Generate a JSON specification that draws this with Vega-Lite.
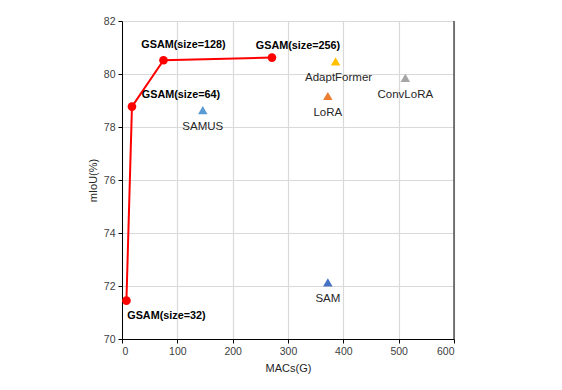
{
  "$schema": "https://vega.github.io/schema/vega-lite/v6.json",
  "width": 332,
  "height": 318,
  "autosize": "none",
  "padding": {"left": 122, "top": 21, "right": 108, "bottom": 51},
  "background": "white",
  "config": {
    "font": "Liberation Sans",
    "view": {"stroke": null},
    "axis": {
      "grid": true, "gridColor": "#D9D9D9", "gridWidth": 1.2,
      "domainColor": "#000000", "tickColor": "#000000", "tickSize": 4,
      "labelColor": "#404040", "labelFontSize": 10.5, "labelFont": "Liberation Sans",
      "titleColor": "#262626", "titleFontSize": 11, "titleFontWeight": "normal", "titleFont": "Liberation Sans"
    }
  },
  "datasets": {
    "gsam": [
      {"name": "GSAM(size=32)", "macs": 8, "miou": 71.45},
      {"name": "GSAM(size=64)", "macs": 18, "miou": 78.77},
      {"name": "GSAM(size=128)", "macs": 75, "miou": 80.52},
      {"name": "GSAM(size=256)", "macs": 271, "miou": 80.62}
    ],
    "others": [
      {"name": "SAMUS", "macs": 146, "miou": 78.64},
      {"name": "AdaptFormer", "macs": 386, "miou": 80.48},
      {"name": "LoRA", "macs": 372, "miou": 79.17},
      {"name": "ConvLoRA", "macs": 512, "miou": 79.85},
      {"name": "SAM", "macs": 372, "miou": 72.14}
    ],
    "border": [{"macs": 600}]
  },
  "layer": [
    {
      "data": {"name": "gsam"},
      "mark": {"type": "line", "color": "#FF0000", "strokeWidth": 2},
      "encoding": {
        "x": {"field": "macs", "type": "quantitative", "scale": {"domain": [0, 600], "nice": false}, "axis": {"values": [0, 100, 200, 300, 400, 500, 600], "title": "MACs(G)", "titlePadding": 6, "labelPadding": 3}},
        "y": {"field": "miou", "type": "quantitative", "scale": {"domain": [70, 82], "nice": false, "zero": false}, "axis": {"values": [70, 72, 74, 76, 78, 80, 82], "title": "mIoU(%)", "titlePadding": 5, "labelPadding": 3}}
      }
    },
    {
      "data": {"name": "border"},
      "mark": {"type": "rule", "color": "#000000", "strokeWidth": 1},
      "encoding": {"x": {"field": "macs", "type": "quantitative"}}
    },
    {
      "data": {"name": "gsam"},
      "mark": {"type": "point", "filled": true, "color": "#FF0000", "opacity": 1, "size": 75, "shape": "circle"},
      "encoding": {
        "x": {"field": "macs", "type": "quantitative"},
        "y": {"field": "miou", "type": "quantitative"}
      }
    },
    {
      "data": {"name": "others"},
      "mark": {"type": "point", "filled": true, "opacity": 1, "size": 90, "shape": "triangle-up"},
      "encoding": {
        "x": {"field": "macs", "type": "quantitative"},
        "y": {"field": "miou", "type": "quantitative"},
        "color": {"field": "name", "type": "nominal", "legend": null, "scale": {"domain": ["SAMUS", "AdaptFormer", "LoRA", "ConvLoRA", "SAM"], "range": ["#5B9BD5", "#FFC000", "#ED7D31", "#A5A5A5", "#4472C4"]}}
      }
    },
    {
      "data": {"name": "gsam"},
      "transform": [{"filter": "datum.name === 'GSAM(size=32)'"}],
      "mark": {"type": "text", "fontWeight": "bold", "fontSize": 10.8, "color": "#000000", "dx": 40, "dy": 15},
      "encoding": {"x": {"field": "macs", "type": "quantitative"}, "y": {"field": "miou", "type": "quantitative"}, "text": {"field": "name"}}
    },
    {
      "data": {"name": "gsam"},
      "transform": [{"filter": "datum.name === 'GSAM(size=64)'"}],
      "mark": {"type": "text", "fontWeight": "bold", "fontSize": 10.8, "color": "#000000", "dx": 49, "dy": -12},
      "encoding": {"x": {"field": "macs", "type": "quantitative"}, "y": {"field": "miou", "type": "quantitative"}, "text": {"field": "name"}}
    },
    {
      "data": {"name": "gsam"},
      "transform": [{"filter": "datum.name === 'GSAM(size=128)'"}],
      "mark": {"type": "text", "fontWeight": "bold", "fontSize": 10.8, "color": "#000000", "dx": 20, "dy": -15},
      "encoding": {"x": {"field": "macs", "type": "quantitative"}, "y": {"field": "miou", "type": "quantitative"}, "text": {"field": "name"}}
    },
    {
      "data": {"name": "gsam"},
      "transform": [{"filter": "datum.name === 'GSAM(size=256)'"}],
      "mark": {"type": "text", "fontWeight": "bold", "fontSize": 10.8, "color": "#000000", "dx": 26, "dy": -12},
      "encoding": {"x": {"field": "macs", "type": "quantitative"}, "y": {"field": "miou", "type": "quantitative"}, "text": {"field": "name"}}
    },
    {
      "data": {"name": "others"},
      "transform": [{"filter": "datum.name !== 'AdaptFormer'"}],
      "mark": {"type": "text", "fontSize": 11.5, "color": "#262626", "dy": 17},
      "encoding": {"x": {"field": "macs", "type": "quantitative"}, "y": {"field": "miou", "type": "quantitative"}, "text": {"field": "name"}}
    },
    {
      "data": {"name": "others"},
      "transform": [{"filter": "datum.name === 'AdaptFormer'"}],
      "mark": {"type": "text", "fontSize": 11.5, "color": "#262626", "dx": 3, "dy": 16.5},
      "encoding": {"x": {"field": "macs", "type": "quantitative"}, "y": {"field": "miou", "type": "quantitative"}, "text": {"field": "name"}}
    }
  ]
}
